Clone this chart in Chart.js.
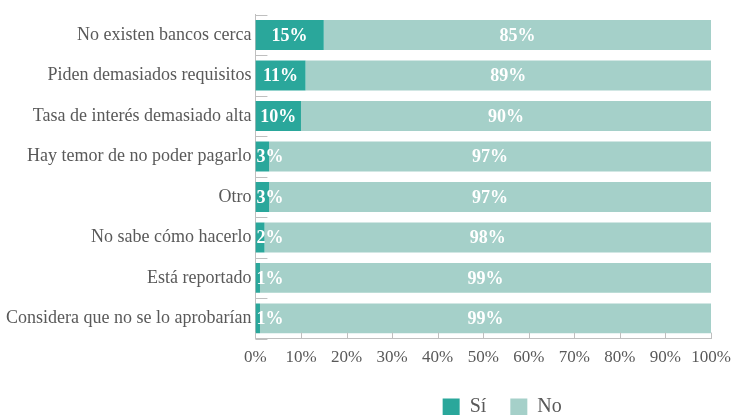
<!DOCTYPE html>
<html>
<head>
<meta charset="utf-8">
<script src="https://cdn.jsdelivr.net/npm/chart.js@4"></script>
<style>
  html, body { margin: 0; padding: 0; background: #fff; }
  #wrap { width: 737px; height: 415px; }
</style>
</head>
<body>
<div id="wrap"><canvas id="myChart"></canvas></div>
<script>
var categories = [
    'No existen bancos cerca',
    'Piden demasiados requisitos',
    'Tasa de interés demasiado alta',
    'Hay temor de no poder pagarlo',
    'Otro',
    'No sabe cómo hacerlo',
    'Está reportado',
    'Considera que no se lo aprobarían'
];
var siValues = [15, 11, 10, 3, 3, 2, 1, 1];
var noValues = [85, 89, 90, 97, 97, 98, 99, 99];

var textColor = '#595959';
var axisColor = '#bfbfbf';
var serif = '"Liberation Serif", "Times New Roman", serif';

// white value labels centred on each segment, kept inside the bar start
var barLabels = {
    id: 'barLabels',
    afterDatasetsDraw: function(chart) {
        var ctx = chart.ctx;
        ctx.save();
        ctx.fillStyle = '#ffffff';
        ctx.font = 'bold 18px ' + serif;
        ctx.textAlign = 'center';
        ctx.textBaseline = 'middle';
        chart.data.datasets.forEach(function(ds, i) {
            chart.getDatasetMeta(i).data.forEach(function(bar, j) {
                var txt = ds.data[j] + '%';
                var w = ctx.measureText(txt).width;
                var cx = Math.max((bar.x + bar.base) / 2, bar.base + w / 2 + 1);
                ctx.fillText(txt, cx, bar.y + 1);
            });
        });
        ctx.restore();
    }
};

// short inward tick marks on both axes
var innerTicks = {
    id: 'innerTicks',
    afterDraw: function(chart) {
        var ctx = chart.ctx;
        var x = chart.scales.x, y = chart.scales.y;
        ctx.save();
        ctx.strokeStyle = axisColor;
        ctx.lineWidth = 1;
        ctx.beginPath();
        x.ticks.forEach(function(t, i) {
            var px = Math.round(x.getPixelForTick(i)) + 0.5;
            ctx.moveTo(px, y.bottom);
            ctx.lineTo(px, y.bottom - 6);
        });
        var n = categories.length;
        var step = (y.bottom - y.top) / n;
        for (var k = 0; k <= n; k++) {
            var py = Math.round(y.top + k * step) + 0.5;
            ctx.moveTo(x.left, py);
            ctx.lineTo(x.left + 12, py);
        }
        ctx.stroke();
        ctx.restore();
    }
};

// tighter legend box, nudged a little to the right
var legendTweak = {
    id: 'legendTweak',
    beforeInit: function(chart) {
        var legend = chart.legend;
        var fit = legend.fit;
        legend.fit = function() {
            fit.call(this);
            this.height -= 12;
        };
    },
    afterLayout: function(chart) {
        chart.legend.left += 19;
        chart.legend.right += 19;
    }
};

var chartConfig = {
    type: 'bar',
    data: {
        labels: categories,
        datasets: [{
            label: 'Sí',
            data: siValues,
            backgroundColor: '#2aa79b',
            barPercentage: 0.74,
            categoryPercentage: 1
        }, {
            label: 'No',
            data: noValues,
            backgroundColor: '#a5d0c9',
            barPercentage: 0.74,
            categoryPercentage: 1
        }]
    },
    options: {
        indexAxis: 'y',
        responsive: true,
        maintainAspectRatio: false,
        animation: false,
        layout: { padding: { top: 10, right: 2, bottom: 0, left: 2 } },
        scales: {
            x: {
                stacked: true,
                min: 0,
                max: 100,
                border: { color: axisColor },
                grid: { display: false, drawTicks: false },
                afterFit: function(scale) {
                    scale.height -= 4;
                    scale.paddingRight = 26;
                },
                ticks: {
                    stepSize: 10,
                    color: textColor,
                    font: { family: serif, size: 17 },
                    padding: 9,
                    callback: function(v) { return v + '%'; }
                }
            },
            y: {
                stacked: true,
                border: { color: axisColor },
                grid: { display: false, drawTicks: false },
                ticks: {
                    color: textColor,
                    font: { family: serif, size: 18 },
                    padding: 4
                }
            }
        },
        plugins: {
            tooltip: { enabled: false },
            legend: {
                position: 'bottom',
                fullSize: false,
                labels: {
                    color: textColor,
                    font: { family: serif, size: 20 },
                    boxWidth: 17,
                    boxHeight: 17,
                    padding: 24
                }
            }
        }
    },
    plugins: [barLabels, innerTicks, legendTweak]
};

var ctx = document.getElementById('myChart').getContext('2d');
var chart = new Chart(ctx, chartConfig);
</script>
</body>
</html>
